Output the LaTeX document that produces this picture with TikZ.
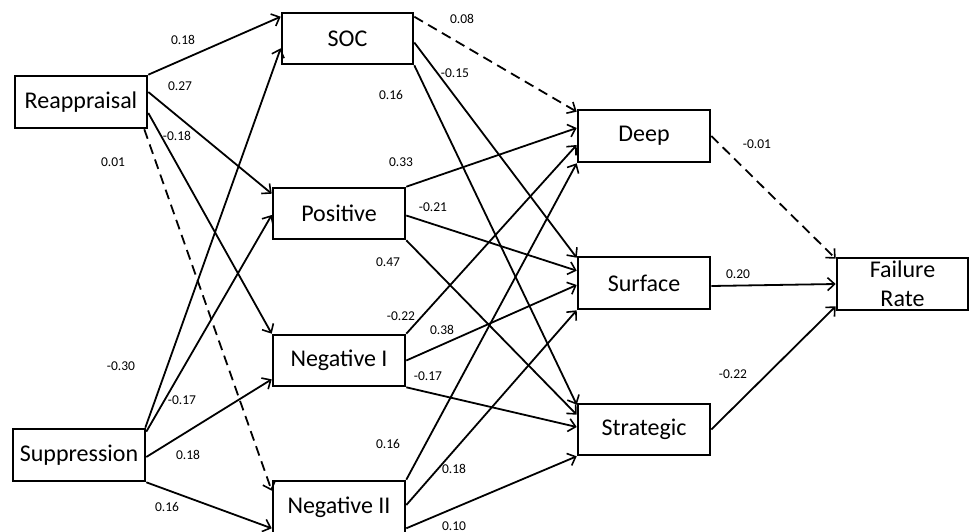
\documentclass[tikz,border=0pt]{standalone}
\usepackage{fontspec}
\setmainfont{Carlito}
\usetikzlibrary{arrows.meta}
\begin{document}
\begin{tikzpicture}[x=1pt,y=-1pt,
  box/.style={draw, line width=2.6pt, inner sep=0pt, minimum width=132pt, minimum height=52pt,
    font=\fontsize{24}{29}\selectfont, align=center},
  conn/.style={line width=1.8pt, -{Straight Barb[length=7pt,width=13pt,line width=1.6pt]}},
  dconn/.style={conn, dash pattern=on 10pt off 6pt},
  lab/.style={font=\fontsize{13.5}{16}\selectfont, inner sep=0pt}]
\useasboundingbox (0,0) rectangle (969,532);
% boxes
\node[box] (reap) at (81,102) {Reappraisal};
\node[box] (sup) at (79,455) {Suppression};
\node[box, minimum width=131pt, minimum height=51pt] (soc) at (347.5,38.5) {SOC};
\node[box, minimum height=51pt] (pos) at (339,213.5) {Positive};
\node[box, minimum height=51pt] (neg1) at (339,360.5) {Negative I};
\node[box] (neg2) at (339,507) {Negative II};
\node[box] (deep) at (644,136) {Deep};
\node[box] (surf) at (644,283) {Surface};
\node[box, minimum height=51pt] (strat) at (644,429.5) {Strategic};
\node[box, minimum width=131pt] (fail) at (902.5,284) {Failure\\Rate};
% connectors from Reappraisal
\draw[conn] (reap.north east) -- ([yshift=-5pt]soc.north west);
\draw[conn] ([yshift=10pt]reap.east) -- ([yshift=-7pt]pos.north west);
\draw[conn] ([yshift=-11pt]reap.east) -- (neg1.north west);
\draw[dconn] ([xshift=-4pt]reap.south east) -- ([yshift=-11pt]neg2.north west);
% from Suppression
\draw[conn] ([xshift=-1pt]sup.north east) -- ([yshift=17pt]soc.south west);
\draw[conn] ([yshift=-4pt]sup.north east) -- ([yshift=-1.5pt]pos.west);
\draw[conn] ([yshift=-2pt]sup.east) -- ([yshift=8pt]neg1.south west);
\draw[conn] (sup.south east) -- ([yshift=6pt]neg2.south west);
% from SOC
\draw[dconn] ([yshift=-5pt]soc.north east) -- ([yshift=-3pt]deep.north west);
\draw[conn] ([yshift=-4pt]soc.east) -- ([yshift=-2pt]surf.north west);
\draw[conn] (soc.south east) -- ([yshift=-2pt]strat.north west);
% from Positive
\draw[conn] (pos.north east) -- ([yshift=8pt]deep.west);
\draw[conn] ([yshift=-2pt]pos.east) -- ([yshift=-15pt]surf.north west);
\draw[conn] (pos.south east) -- ([yshift=-12pt]strat.north west);
% from Negative I
\draw[conn] (neg1.north east) -- ([yshift=-9pt]deep.west);
\draw[conn] (neg1.east) -- ([yshift=-2pt]surf.west);
\draw[conn] (neg1.south east) -- ([yshift=2.5pt]strat.west);
% from Negative II
\draw[conn] (neg2.north east) -- (deep.south west);
\draw[conn] ([yshift=2pt]neg2.east) -- (surf.south west);
\draw[conn] ([yshift=6pt]neg2.south east) -- (strat.south west);
% to Failure Rate
\draw[dconn] (deep.east) -- ([yshift=-2pt]fail.north west);
\draw[conn] ([yshift=-3pt]surf.east) -- (fail.west);
\draw[conn] (strat.east) -- ([yshift=5pt]fail.south west);
% labels
\node[lab] (l1) at (183,40) {0.18};
\node[lab] (l2) at (180,86) {0.27};
\node[lab] (l3) at (177,136) {-0.18};
\node[lab] (l4) at (113,162) {0.01};
\node[lab] (l5) at (121,366) {-0.30};
\node[lab] (l6) at (182,400) {-0.17};
\node[lab] (l7) at (188,455) {0.18};
\node[lab] (l8) at (167,507) {0.16};
\node[lab] (l9) at (462,19) {0.08};
\node[lab] (l10) at (455,73) {-0.15};
\node[lab] (l11) at (391,95) {0.16};
\node[lab] (l12) at (401,162) {0.33};
\node[lab] (l13) at (433,207) {-0.21};
\node[lab] (l14) at (388,262) {0.47};
\node[lab] (l15) at (401,316) {-0.22};
\node[lab] (l16) at (442,330) {0.38};
\node[lab] (l17) at (428,376) {-0.17};
\node[lab] (l18) at (388,444) {0.16};
\node[lab] (l19) at (454,469) {0.18};
\node[lab] (l20) at (454,526) {0.10};
\node[lab] (l21) at (757,144) {-0.01};
\node[lab] (l22) at (738,274) {0.20};
\node[lab] (l23) at (733,374) {-0.22};
\end{tikzpicture}
\end{document}
